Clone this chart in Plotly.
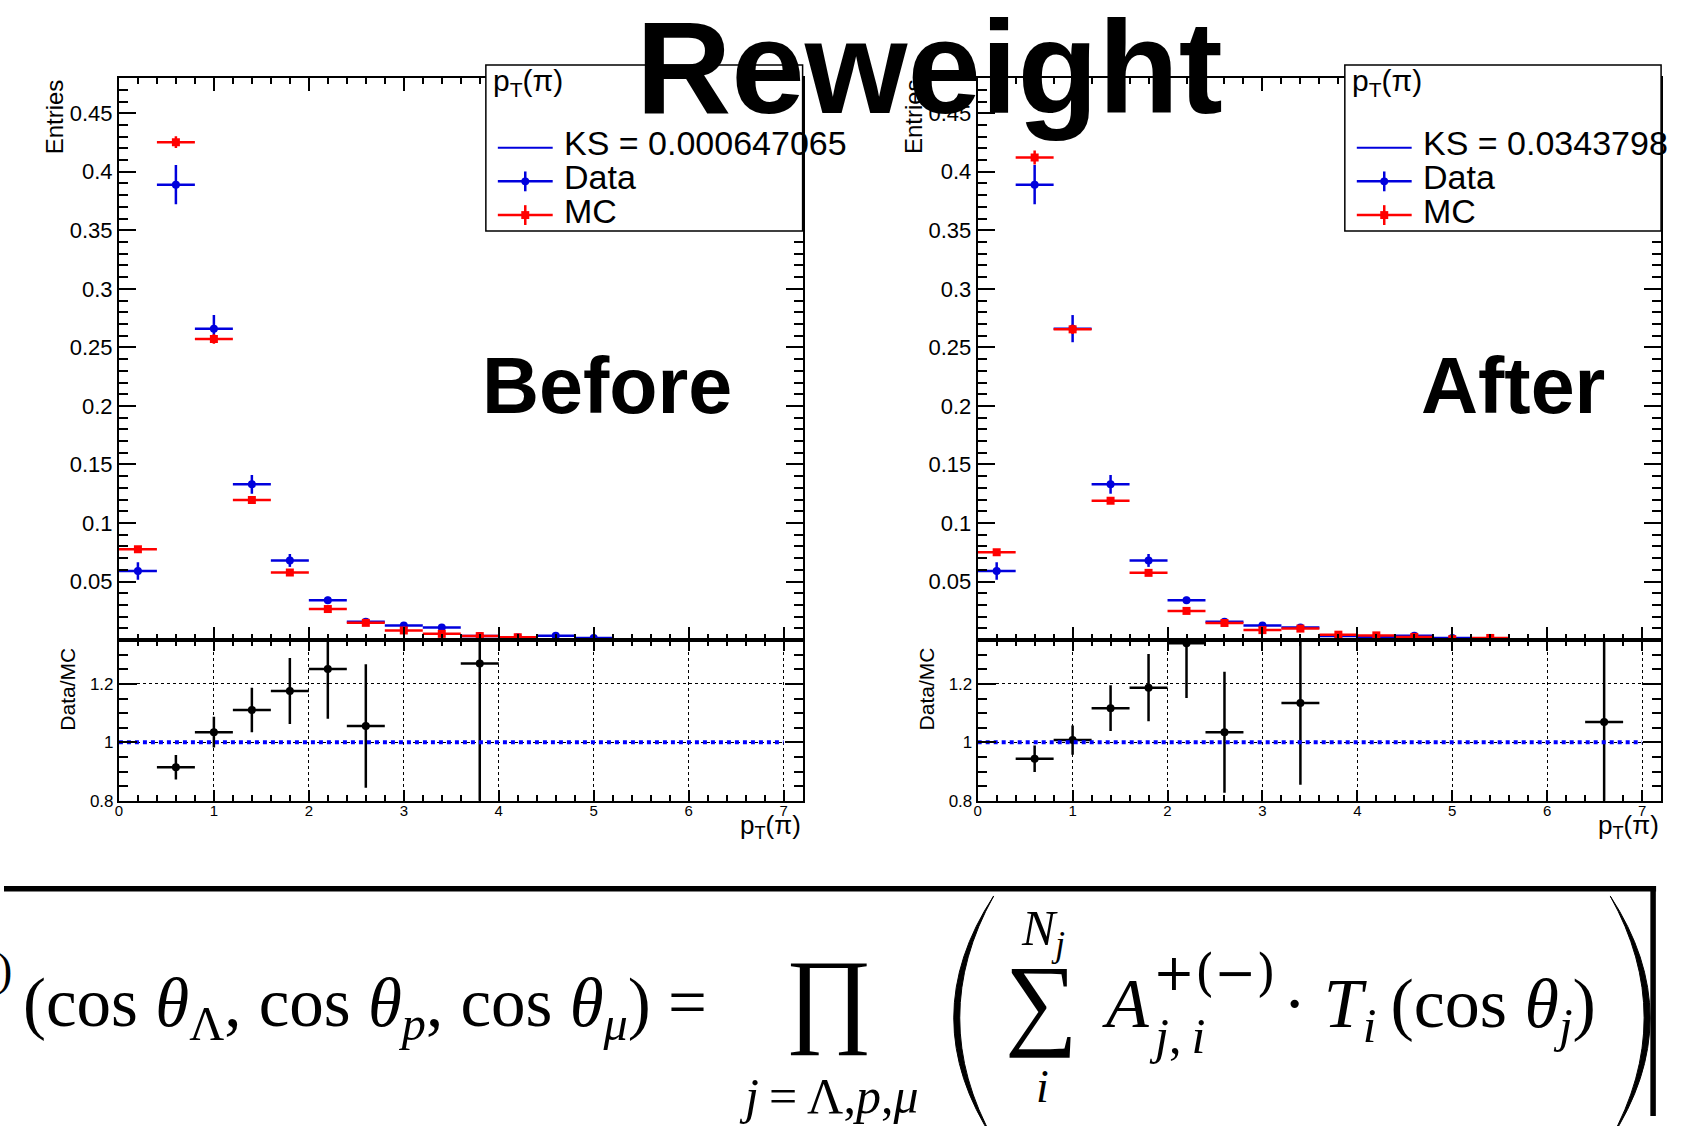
import plotly.graph_objects as go

W, H = 1696, 1126
SANS = "Liberation Sans, Arial, Helvetica, sans-serif"
SERIF = "Liberation Serif, Times New Roman, DejaVu Serif, serif"
WIDE_SERIF = "DejaVu Serif, Liberation Serif, serif"
BLUE = "#0000dd"
RED = "#ff0000"

# ---------------- data ----------------
bin_half_width = 0.2

data_x = [0.2, 0.6, 1.0, 1.4, 1.8, 2.2, 2.6, 3.0, 3.4, 3.8, 4.2, 4.6, 5.0]
data_y = [0.059, 0.389, 0.266, 0.133, 0.068, 0.034, 0.0156, 0.0124, 0.0108, 0.0034, 0.0024, 0.0037, 0.0018]
data_err = [0.0074, 0.0167, 0.0116, 0.008, 0.0055, 0.003, 0.0018, 0.0015, 0.0014, 0.0008, 0.0007, 0.0008, 0.0005]

mc_before_x = [0.2, 0.6, 1.0, 1.4, 1.8, 2.2, 2.6, 3.0, 3.4, 3.8, 4.2]
mc_before_y = [0.0776, 0.4253, 0.2572, 0.1197, 0.0577, 0.0265, 0.0147, 0.0082, 0.0053, 0.0034, 0.0024]
mc_before_err = [0.0015, 0.005, 0.004, 0.002, 0.0015, 0.001, 0.0008, 0.0006, 0.0005, 0.0003, 0.0003]

mc_after_x = [0.2, 0.6, 1.0, 1.4, 1.8, 2.2, 2.6, 3.0, 3.4, 3.8, 4.2, 4.6, 5.0, 5.4]
mc_after_y = [0.0751, 0.4122, 0.2654, 0.1190, 0.0574, 0.0249, 0.0146, 0.0085, 0.0098, 0.0046, 0.0040, 0.0027, 0.0008, 0.0018]
mc_after_err = [0.0015, 0.006, 0.004, 0.002, 0.0015, 0.001, 0.0008, 0.0006, 0.0006, 0.0004, 0.0004, 0.0003, 0.0002, 0.0003]

ratio_before_x = [0.6, 1.0, 1.4, 1.8, 2.2, 2.6, 3.8]
ratio_before_y = [0.915, 1.035, 1.111, 1.176, 1.251, 1.056, 1.27]
ratio_before_err = [0.042, 0.053, 0.076, 0.113, 0.17, 0.211, 0.6]

ratio_after_x = [0.6, 1.0, 1.4, 1.8, 2.2, 2.6, 3.4, 6.6]
ratio_after_y = [0.944, 1.008, 1.117, 1.187, 1.339, 1.035, 1.135, 1.07]
ratio_after_err = [0.045, 0.05, 0.078, 0.115, 0.187, 0.207, 0.28, 0.5]

unity_x = [0, 7]
unity_y = [1, 1]

ks_before = "KS = 0.000647065"
ks_after = "KS = 0.0343798"

upper_ticks = [0.05, 0.1, 0.15, 0.2, 0.25, 0.3, 0.35, 0.4, 0.45]
upper_tick_labels = ["0.05", "0.1", "0.15", "0.2", "0.25", "0.3", "0.35", "0.4", "0.45"]
ratio_ticks = [0.8, 1.0, 1.2]
ratio_tick_labels = ["0.8", "1", "1.2"]


def px(x):
    return x / W


def py(y):
    return 1 - y / H


fig = go.Figure()


def add_points(x, y, err, color, symbol, size, xa, ya):
    fig.add_trace(go.Scatter(
        x=x, y=y, mode="markers", xaxis=xa, yaxis=ya, showlegend=False,
        marker=dict(color=color, symbol=symbol, size=size, line=dict(width=0)),
        error_x=dict(type="constant", value=bin_half_width, thickness=2.5, width=0, color=color),
        error_y=dict(type="data", array=err, thickness=2.5, width=0, color=color),
    ))


# left panel (before)
add_points(data_x, data_y, data_err, BLUE, "circle", 8, "x", "y")
add_points(mc_before_x, mc_before_y, mc_before_err, RED, "square", 8, "x", "y")
add_points(ratio_before_x, ratio_before_y, ratio_before_err, "black", "circle", 8, "x2", "y2")
fig.add_trace(go.Scatter(x=unity_x, y=unity_y, mode="lines", xaxis="x2", yaxis="y2", showlegend=False,
                         line=dict(color="#0000ff", width=4, dash="dot")))
# right panel (after)
add_points(data_x, data_y, data_err, BLUE, "circle", 8, "x3", "y3")
add_points(mc_after_x, mc_after_y, mc_after_err, RED, "square", 8, "x3", "y3")
add_points(ratio_after_x, ratio_after_y, ratio_after_err, "black", "circle", 8, "x4", "y4")
fig.add_trace(go.Scatter(x=unity_x, y=unity_y, mode="lines", xaxis="x4", yaxis="y4", showlegend=False,
                         line=dict(color="#0000ff", width=4, dash="dot")))

TOP, MID, BOT = 78.8, 645.8, 808.0
UP = [py(MID), py(TOP)]
LO = [py(BOT), py(MID)]
LX = [px(115.2), px(800.5)]
RX = [px(976), px(1661)]


def xaxis(dom, anchor, lower):
    return dict(
        domain=dom, anchor=anchor, range=[0, 7.2], tickmode="linear", tick0=0, dtick=1,
        ticks="inside", ticklen=11 if lower else 13, tickwidth=1.5, tickcolor="black",
        showticklabels=lower, tickfont=dict(family=SANS, size=15, color="black"),
        ticklabelstandoff=-5,
        showline=True, linecolor="black", linewidth=2, mirror="ticks", zeroline=False,
        showgrid=lower, gridcolor="black", griddash="dot", gridwidth=1,
        minor=dict(ticks="inside", tickmode="linear", tick0=0, dtick=0.2, ticklen=6,
                   tickwidth=1.5, tickcolor="black", showgrid=False),
        fixedrange=True,
    )


def yaxis_upper(anchor):
    return dict(
        domain=UP, anchor=anchor, range=[0, 0.48], tickmode="array", tickvals=upper_ticks,
        ticktext=upper_tick_labels, ticks="inside", ticklen=17, tickwidth=1.5, tickcolor="black",
        tickfont=dict(family=SANS, size=22, color="black"),
        showline=True, linecolor="black", linewidth=2, mirror="ticks", zeroline=False, showgrid=False,
        minor=dict(ticks="inside", tickmode="linear", tick0=0, dtick=0.01, ticklen=9,
                   tickwidth=1.5, tickcolor="black", showgrid=False),
        fixedrange=True,
    )


def yaxis_lower(anchor):
    return dict(
        domain=LO, anchor=anchor, range=[0.8, 1.35], tickmode="array", tickvals=ratio_ticks,
        ticktext=ratio_tick_labels, ticks="inside", ticklen=18, tickwidth=1.5, tickcolor="black",
        tickfont=dict(family=SANS, size=17, color="black"),
        showline=True, linecolor="black", linewidth=2, mirror="ticks", zeroline=False,
        showgrid=True, gridcolor="black", griddash="dot", gridwidth=1,
        minor=dict(ticks="inside", tickmode="linear", tick0=0.8, dtick=0.05, ticklen=9,
                   tickwidth=1.5, tickcolor="black", showgrid=False),
        fixedrange=True,
    )


shapes = []
annotations = []


def ann(x, y, text, size, family=SANS, xanchor="center", yanchor="middle", angle=0, weight="normal"):
    annotations.append(dict(
        x=px(x), y=py(y), xref="paper", yref="paper", text=text, showarrow=False,
        xanchor=xanchor, yanchor=yanchor, textangle=angle,
        font=dict(family=family, size=size, color="black", weight=weight),
    ))


def line(x0, y0, x1, y1, color, width):
    shapes.append(dict(type="line", xref="paper", yref="paper", x0=px(x0), y0=py(y0), x1=px(x1), y1=py(y1),
                       line=dict(color=color, width=width), layer="above"))


def legend(x0, x1, ks):
    shapes.append(dict(type="rect", xref="paper", yref="paper", x0=px(x0), x1=px(x1), y0=py(65.5), y1=py(233),
                       line=dict(color="black", width=1.5), fillcolor="white", layer="above"))
    lx0, lx1 = x0 + 12, x0 + 67
    lxc = (lx0 + lx1) / 2
    # KS row
    line(lx0, 149, lx1, 149, BLUE, 2)
    # Data row
    line(lx0, 183, lx1, 183, BLUE, 2.5)
    line(lxc, 173, lxc, 193, BLUE, 2.5)
    shapes.append(dict(type="circle", xref="paper", yref="paper", x0=px(lxc - 4), x1=px(lxc + 4),
                       y0=py(187), y1=py(179), fillcolor=BLUE, line=dict(width=0), layer="above"))
    # MC row
    line(lx0, 217, lx1, 217, RED, 2.5)
    line(lxc, 207, lxc, 227, RED, 2.5)
    shapes.append(dict(type="rect", xref="paper", yref="paper", x0=px(lxc - 4), x1=px(lxc + 4),
                       y0=py(221), y1=py(213), fillcolor=RED, line=dict(width=0), layer="above"))
    tx = x0 + 76
    ann(x0 + 5, 63, "p<sub>T</sub>(π)", 30, xanchor="left", yanchor="top")
    ann(tx, 144.5, ks, 34, xanchor="left")
    ann(tx, 179, "Data", 34, xanchor="left")
    ann(tx, 212.5, "MC", 34, xanchor="left")


legend(483, 800.5, ks_before)
legend(1344, 1661, ks_after)

for dx in (0, 860.8):
    ann(51 + dx, 117.5, "Entries", 24, angle=-90)
    ann(64 + dx, 695, "Data/MC", 21, angle=-90)
    ann(800.5 + dx, 815.5, "p<sub>T</sub>(π)", 26, xanchor="right", yanchor="top")

ann(604, 388.5, "Before", 79, weight="bold")
ann(1513, 388.5, "After", 79, weight="bold")
ann(928, 68, "Reweight", 132, weight="bold")

# ---------------- formula region ----------------
line(0, 896.6, 1656, 896.6, "black", 5.5)
line(1653, 894, 1653, 1126, "black", 5.5)


def paren(xe, xm_out, xm_in, y0, y1):
    ym = (y0 + y1) / 2
    c_out = 2 * xm_out - xe
    c_in = 2 * xm_in - xe
    path = (f"M {px(xe)},{py(y0)} Q {px(c_out)},{py(ym)} {px(xe)},{py(y1)} "
            f"Q {px(c_in)},{py(ym)} {px(xe)},{py(y0)} Z")
    shapes.append(dict(type="path", xref="paper", yref="paper", path=path, fillcolor="black",
                       line=dict(color="black", width=1), layer="above"))


paren(992, 952, 958, 904, 1150)
paren(1610, 1650, 1644, 904, 1150)

FS = 69
TS = "\u2009"
ann(10, 978, ")", 46, family=SERIF, xanchor="right")
ann(17, 972, "(cos <i>θ</i><sub>Λ</sub>, cos <i>θ</i><sub><i>p</i></sub>, cos <i>θ</i><sub><i>μ</i></sub>) =",
    FS, family=SERIF, xanchor="left", yanchor="top")
ann(826, 1006, "∏", 106, family=SERIF)
ann(827, 1106, f"<i>j</i>{TS}={TS}Λ,<i>p</i>,<i>μ</i>", 50, family=SERIF)
ann(1041, 940, "<i>N<sub>j</sub></i>", 50, family=SERIF)
ann(1040, 1010, "∑", 102, family=SERIF)
ann(1041, 1096, "<i>i</i>", 46, family=SERIF)
ann(1099, 972, "<i>A</i>", 70, family=SERIF, xanchor="left", yanchor="top")
ann(1150, 982, "+(−)", 50, family=WIDE_SERIF, xanchor="left")
ann(1146, 1045, f"<i>j</i>,{TS}<i>i</i>", 50, family=SERIF, xanchor="left")
ann(1280, 972, f"· <i>T</i><sub><i>i</i></sub>{TS}(cos <i>θ</i><sub><i>j</i></sub>)", 70, family=SERIF,
    xanchor="left", yanchor="top")

fig.update_layout(
    width=W, height=H, margin=dict(l=0, r=0, t=0, b=0),
    paper_bgcolor="white", plot_bgcolor="white", showlegend=False,
    xaxis=xaxis(LX, "y", False), yaxis=yaxis_upper("x"),
    xaxis2=xaxis(LX, "y2", True), yaxis2=yaxis_lower("x2"),
    xaxis3=xaxis(RX, "y3", False), yaxis3=yaxis_upper("x3"),
    xaxis4=xaxis(RX, "y4", True), yaxis4=yaxis_lower("x4"),
    shapes=shapes, annotations=annotations,
)

fig.write_html("out.html", config={"displayModeBar": False})
